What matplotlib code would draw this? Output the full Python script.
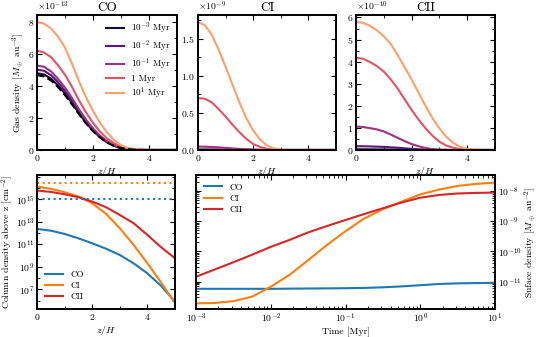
import numpy as np
import matplotlib.pyplot as plt
from matplotlib.ticker import AutoMinorLocator, LogLocator, FixedLocator, NullFormatter

plt.rcParams['font.family'] = 'serif'
plt.rcParams['font.serif'] = ['cmr10', 'DejaVu Serif']
plt.rcParams['mathtext.fontset'] = 'cm'
plt.rcParams['axes.formatter.use_mathtext'] = True
plt.rcParams['font.size'] = 7
plt.rcParams['axes.linewidth'] = 1.4
plt.rcParams['axes.labelpad'] = 1.5
plt.rcParams['xtick.direction'] = 'in'
plt.rcParams['ytick.direction'] = 'in'
plt.rcParams['xtick.top'] = True
plt.rcParams['ytick.right'] = True
plt.rcParams['xtick.major.size'] = 3.5
plt.rcParams['ytick.major.size'] = 3.5
plt.rcParams['xtick.minor.size'] = 2
plt.rcParams['ytick.minor.size'] = 2
plt.rcParams['xtick.major.pad'] = 2
plt.rcParams['ytick.major.pad'] = 2
plt.rcParams['xtick.minor.visible'] = True
plt.rcParams['ytick.minor.visible'] = True

# ---------------- data ----------------
z = np.linspace(0, 5, 21)   # z/H grid, step 0.25
time_labels = [r'$10^{-3}$ Myr', r'$10^{-2}$ Myr', r'$10^{-1}$ Myr', r'1 Myr', r'$10^{1}$ Myr']

# CO gas density (x 1e-13)
co_t3 = [4.80, 4.72, 4.46, 4.04, 3.53, 2.93, 2.30, 1.71, 1.20, 0.80, 0.48, 0.26, 0.12, 0.05, 0.02, 0, 0, 0, 0, 0, 0]
co_t2 = [5.03, 4.95, 4.68, 4.24, 3.70, 3.08, 2.42, 1.80, 1.27, 0.84, 0.51, 0.28, 0.13, 0.05, 0.02, 0, 0, 0, 0, 0, 0]
co_t1 = [5.28, 5.20, 4.92, 4.45, 3.90, 3.25, 2.55, 1.90, 1.35, 0.90, 0.55, 0.30, 0.14, 0.05, 0.02, 0, 0, 0, 0, 0, 0]
co_t0 = [6.20, 6.10, 5.80, 5.30, 4.70, 3.95, 3.10, 2.35, 1.70, 1.15, 0.72, 0.42, 0.20, 0.08, 0.03, 0.01, 0, 0, 0, 0, 0]
co_t10 = [8.00, 7.90, 7.60, 7.10, 6.40, 5.40, 4.30, 3.30, 2.45, 1.70, 1.10, 0.63, 0.30, 0.12, 0.04, 0.01, 0, 0, 0, 0, 0]
co_init = [4.68, 4.60, 4.35, 3.93, 3.43, 2.85, 2.24, 1.66, 1.17, 0.78, 0.47, 0.25, 0.12, 0.05, 0.02, 0, 0, 0, 0, 0, 0]

# CI gas density (x 1e-9)
ci_t3 = [0.002, 0.002, 0.002, 0.002, 0.001, 0.001, 0.001, 0.0005, 0.0003, 0.0001, 0, 0, 0, 0, 0, 0, 0, 0, 0, 0, 0]
ci_t2 = [0.006, 0.006, 0.0055, 0.005, 0.004, 0.003, 0.002, 0.0013, 0.0007, 0.0003, 0.0001, 0, 0, 0, 0, 0, 0, 0, 0, 0, 0]
ci_t1 = [0.045, 0.044, 0.040, 0.035, 0.028, 0.021, 0.015, 0.009, 0.005, 0.002, 0.001, 0, 0, 0, 0, 0, 0, 0, 0, 0, 0]
ci_t0 = [0.70, 0.69, 0.64, 0.55, 0.45, 0.34, 0.24, 0.15, 0.08, 0.04, 0.015, 0.003, 0, 0, 0, 0, 0, 0, 0, 0, 0]
ci_t10 = [1.72, 1.68, 1.55, 1.35, 1.12, 0.88, 0.64, 0.43, 0.26, 0.14, 0.06, 0.02, 0.005, 0, 0, 0, 0, 0, 0, 0, 0]

# CII gas density (x 1e-10)
cii_t3 = [0.03, 0.03, 0.028, 0.026, 0.024, 0.021, 0.017, 0.013, 0.009, 0.006, 0.003, 0.001, 0, 0, 0, 0, 0, 0, 0, 0, 0]
cii_t2 = [0.17, 0.167, 0.16, 0.15, 0.14, 0.12, 0.10, 0.075, 0.05, 0.03, 0.015, 0.007, 0.002, 0, 0, 0, 0, 0, 0, 0, 0]
cii_t1 = [1.06, 1.04, 0.99, 0.93, 0.84, 0.70, 0.55, 0.40, 0.27, 0.17, 0.09, 0.04, 0.015, 0.005, 0, 0, 0, 0, 0, 0, 0]
cii_t0 = [4.18, 4.13, 3.98, 3.80, 3.55, 3.20, 2.78, 2.30, 1.82, 1.38, 0.99, 0.65, 0.38, 0.20, 0.10, 0.04, 0.01, 0, 0, 0, 0]
cii_t10 = [5.80, 5.76, 5.62, 5.42, 5.15, 4.80, 4.30, 3.75, 3.20, 2.60, 2.00, 1.45, 0.98, 0.60, 0.32, 0.14, 0.05, 0.015, 0, 0, 0]

# column density above z (log10 cm^-2), z step 0.5
z_col = np.linspace(0, 5, 11)
logN_co = [12.36, 12.21, 11.92, 11.53, 11.09, 10.61, 10.05, 9.31, 8.42, 7.30, 5.90]
logN_ci = [16.13, 15.92, 15.62, 15.24, 14.64, 13.70, 12.42, 10.94, 9.31, 7.59, 5.81]
logN_cii = [15.77, 15.65, 15.44, 15.18, 14.79, 14.29, 13.60, 12.87, 11.83, 10.73, 9.76]
N_ci_ref = 3e16
N_co_ref = 1e15
N_ticks = [1e7, 1e9, 1e11, 1e13, 1e15]

# surface density vs time (log10 Msun au^-2), log t step 0.25
logt = np.arange(-3, 1.01, 0.25)
logS_co = [-11.24, -11.24, -11.24, -11.24, -11.24, -11.235, -11.23, -11.225, -11.22, -11.21, -11.19, -11.16, -11.12, -11.08, -11.06, -11.05, -11.04]
logS_ci = [-11.72, -11.71, -11.65, -11.50, -11.17, -10.78, -10.29, -9.79, -9.33, -8.91, -8.60, -8.35, -8.11, -7.95, -7.83, -7.76, -7.72]
logS_cii = [-10.84, -10.60, -10.36, -10.11, -9.85, -9.62, -9.37, -9.16, -8.96, -8.76, -8.57, -8.38, -8.22, -8.13, -8.08, -8.06, -8.05]

# ---------------- figure ----------------
fig = plt.figure(figsize=(5.38, 3.37), dpi=100)
ax1 = fig.add_axes([0.0688, 0.555, 0.260, 0.401])
ax2 = fig.add_axes([0.368, 0.555, 0.2565, 0.401])
ax3 = fig.add_axes([0.6617, 0.555, 0.258, 0.401])
ax4 = fig.add_axes([0.0688, 0.083, 0.2565, 0.3976])
ax5 = fig.add_axes([0.3643, 0.083, 0.5558, 0.3976])

colors = plt.cm.magma(np.linspace(0.1, 0.8, 5))

panels = [
    (ax1, 'CO', [co_t3, co_t2, co_t1, co_t0, co_t10], 1e-13, 8.45),
    (ax2, 'CI', [ci_t3, ci_t2, ci_t1, ci_t0, ci_t10], 1e-9, 1.82),
    (ax3, 'CII', [cii_t3, cii_t2, cii_t1, cii_t0, cii_t10], 1e-10, 6.12),
]
for ax, name, curves, scale, top in panels:
    for c, lab, col in zip(curves, time_labels, colors):
        ax.plot(z, np.array(c) * scale, color=col, lw=1.5, label=lab)
    ax.set_xlim(0, 5)
    ax.set_ylim(0, top * scale)
    ax.set_xticks([0, 2, 4])
    ax.xaxis.set_minor_locator(AutoMinorLocator(2))
    ax.yaxis.set_minor_locator(AutoMinorLocator(2))
    ax.set_title(name, fontsize=9.5, pad=3)
    ax.set_xlabel(r'$z/H$')

ax1.plot(z, np.array(co_init) * 1e-13, 'k--', lw=1.5)
ax1.set_yticks(np.array([0, 2, 4, 6, 8]) * 1e-13)
ax2.set_yticks(np.array([0, 0.5, 1.0, 1.5]) * 1e-9)
ax3.set_yticks(np.arange(0, 7) * 1e-10)
ax1.set_ylabel(r'Gas density [$M_\oplus$ au$^{-3}$]')
ax1.legend(loc='upper right', frameon=False, fontsize=6.5, handlelength=2.0,
           labelspacing=0.3, borderaxespad=0.3)

# column density
ax4.semilogy(z_col, 10**np.array(logN_co), color='tab:blue', lw=1.5, label='CO')
ax4.semilogy(z_col, 10**np.array(logN_ci), color='tab:orange', lw=1.5, label='CI')
ax4.semilogy(z_col, 10**np.array(logN_cii), color='tab:red', lw=1.5, label='CII')
ax4.axhline(N_ci_ref, color='tab:orange', ls=':', lw=1.5)
ax4.axhline(N_co_ref, color='tab:blue', ls=':', lw=1.5)
ax4.set_xlim(0, 5)
ax4.set_ylim(1.8e5, 1.4e17)
ax4.set_xticks([0, 2, 4])
ax4.xaxis.set_minor_locator(AutoMinorLocator(2))
ax4.yaxis.set_major_locator(FixedLocator(N_ticks))
ax4.yaxis.set_minor_locator(LogLocator(base=10, subs=[1.0], numticks=20))
ax4.yaxis.set_minor_formatter(NullFormatter())
ax4.set_xlabel(r'$z/H$')
ax4.set_ylabel(r'Column density above z [cm$^{-2}$]', labelpad=0.5)
ax4.legend(loc='lower left', frameon=False, fontsize=6.5, labelspacing=0.3)

# surface density vs time
t = 10**logt
ax5.loglog(t, 10**np.array(logS_co), color='tab:blue', lw=1.5, label='CO')
ax5.loglog(t, 10**np.array(logS_ci), color='tab:orange', lw=1.5, label='CI')
ax5.loglog(t, 10**np.array(logS_cii), color='tab:red', lw=1.5, label='CII')
ax5.set_xlim(1e-3, 10)
ax5.set_ylim(1.23e-12, 3.4e-8)
ax5.yaxis.set_major_locator(LogLocator(base=10, numticks=10))
ax5.yaxis.set_minor_locator(LogLocator(base=10, subs=np.arange(2, 10), numticks=20))
ax5.yaxis.set_minor_formatter(NullFormatter())
ax5.tick_params(axis='y', which='both', left=True, right=True, labelleft=False, labelright=True)
ax5.yaxis.set_label_position('right')
ax5.set_ylabel(r'Suface density [$M_\oplus$ au$^{-2}$]', labelpad=0.5)
ax5.set_xlabel('Time [Myr]')
ax5.legend(loc='upper left', frameon=False, fontsize=6.5, labelspacing=0.3)

plt.savefig('out.png', dpi=100)
